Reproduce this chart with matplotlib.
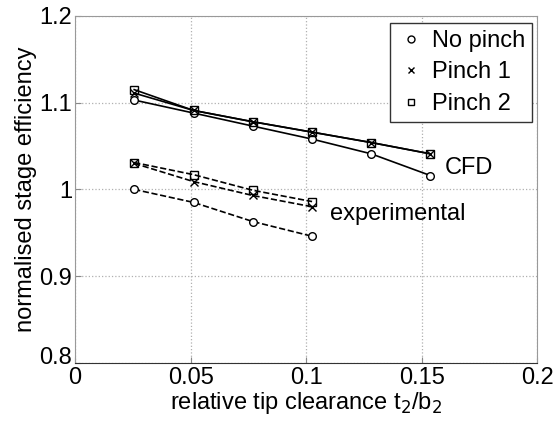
import numpy as np
import matplotlib.pyplot as plt
import matplotlib.transforms as mtransforms

plt.rcParams['font.family'] = ['Liberation Sans', 'DejaVu Sans']

# tip clearance values
x_cfd = [0.0256, 0.0513, 0.0769, 0.1026, 0.1282, 0.1538]
x_exp = [0.0256, 0.0513, 0.0769, 0.1026]

# CFD results
cfd_nopinch = [1.103, 1.088, 1.073, 1.058, 1.041, 1.016]
cfd_pinch1 = [1.111, 1.091, 1.078, 1.066, 1.054, 1.041]
cfd_pinch2 = [1.115, 1.091, 1.078, 1.066, 1.054, 1.041]

# experimental results
exp_nopinch = [1.000, 0.985, 0.963, 0.946]
exp_pinch1 = [1.030, 1.009, 0.993, 0.980]
exp_pinch2 = [1.031, 1.017, 0.999, 0.986]

fig = plt.figure(figsize=(5.56, 4.29), dpi=100)
ax = fig.add_axes([0.135, 0.154, 0.831, 0.809])

ms = 5.5
ax.plot(x_cfd, cfd_nopinch, 'k-', marker='o', mfc='white', ms=ms, lw=1.2)
ax.plot(x_cfd, cfd_pinch1, 'k-', marker='x', ms=ms, lw=1.2)
ax.plot(x_cfd, cfd_pinch2, 'k-', marker='s', mfc='none', ms=ms, lw=1.2)

ax.plot(x_exp, exp_nopinch, 'k--', marker='o', mfc='white', ms=ms, lw=1.2)
ax.plot(x_exp, exp_pinch1, 'k--', marker='x', ms=ms, lw=1.2)
ax.plot(x_exp, exp_pinch2, 'k--', marker='s', mfc='none', ms=ms, lw=1.2)

# legend with markers only
h1, = ax.plot([], [], 'ko', mfc='none', ms=5, ls='none')
h2, = ax.plot([], [], 'kx', ms=4, ls='none')
h3, = ax.plot([], [], 'ks', mfc='none', ms=4.5, ls='none')
leg = ax.legend([h1, h2, h3], ['No pinch', 'Pinch 1', 'Pinch 2'],
                loc='upper right', bbox_to_anchor=(0.99, 0.98), fontsize=17,
                frameon=True, fancybox=False, framealpha=1, borderpad=0.3,
                labelspacing=0.4, handletextpad=0.3, handlelength=1.2,
                borderaxespad=0)
leg.get_frame().set_edgecolor('#333333')
leg.get_frame().set_linewidth(1.0)

ax.text(0.160, 1.025, 'CFD', fontsize=17, va='center', ha='left')
ax.text(0.1105, 0.972, 'experimental', fontsize=17, va='center', ha='left')

ax.set_xlim(0, 0.2)
ax.set_ylim(0.8, 1.2)
ax.set_xticks([0, 0.05, 0.1, 0.15, 0.2])
ax.set_xticklabels(['0', '0.05', '0.1', '0.15', '0.2'])
ax.set_yticks([0.8, 0.9, 1.0, 1.1, 1.2])
ax.set_yticklabels(['0.8', '0.9', '1', '1.1', '1.2'])
ax.tick_params(direction='in', length=4, labelsize=17, color='#888888')
ax.tick_params(axis='x', pad=3)
ax.tick_params(axis='y', pad=2)
ax.grid(True, ls=':', color='#b0b0b0', lw=0.9)

# lift the bottom y label a little so it clears the x "0"
lbl = ax.get_yticklabels()[0]
lbl.set_transform(lbl.get_transform() +
                  mtransforms.ScaledTranslation(0, 5 / 72, fig.dpi_scale_trans))

for s in ['left', 'right', 'top']:
    ax.spines[s].set_color('#999999')
ax.spines['bottom'].set_color('#333333')

ax.set_xlabel('relative tip clearance t$_2$/b$_2$', fontsize=17, labelpad=1)
ax.set_ylabel('normalised stage efficiency', fontsize=17, labelpad=2)

fig.savefig('out.png', dpi=100)
